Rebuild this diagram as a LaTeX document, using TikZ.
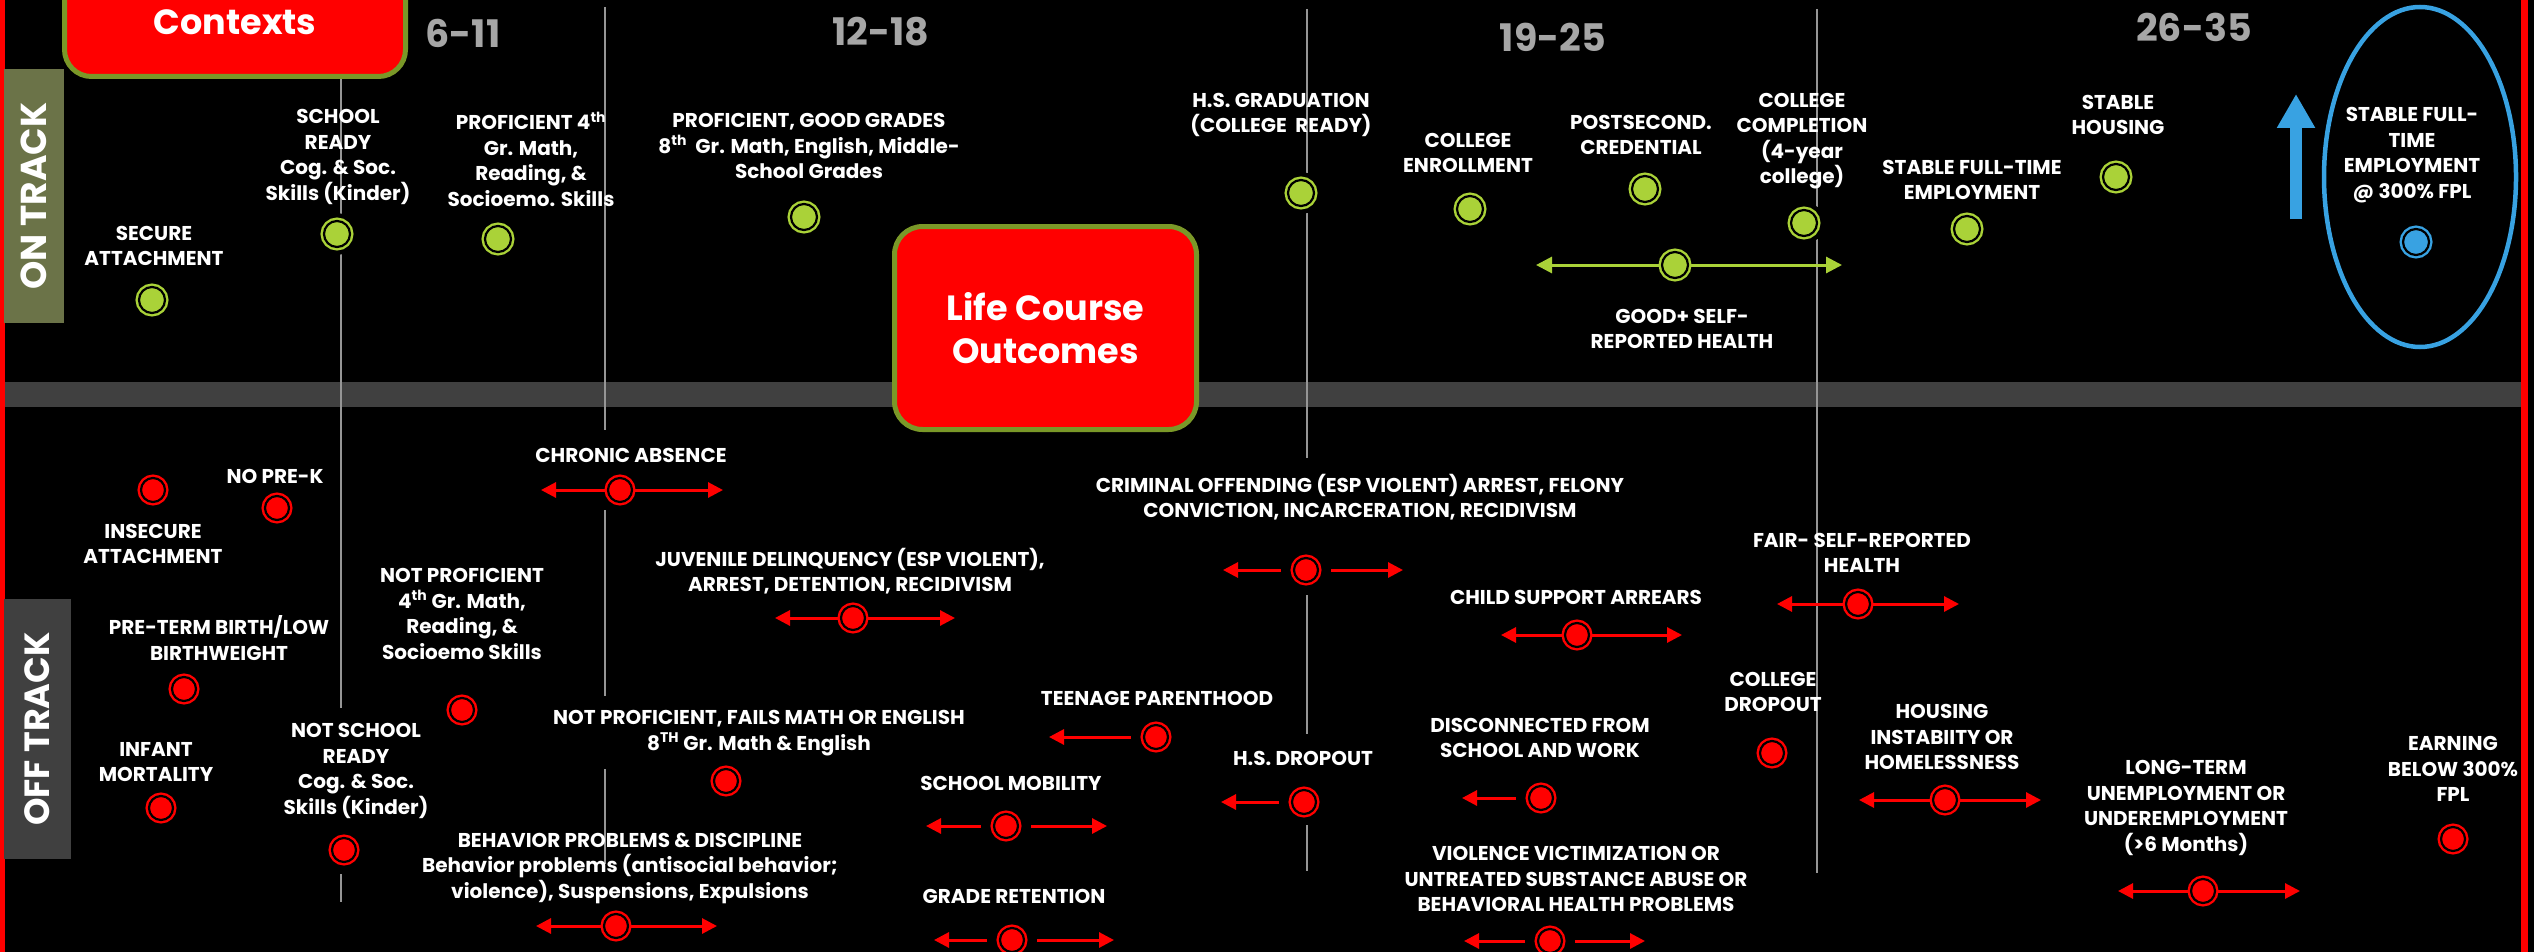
\documentclass[tikz,border=0pt]{standalone}
\usepackage{fontspec}
\setmainfont{Poppins}
\usetikzlibrary{arrows.meta,shapes.geometric}
\definecolor{lg}{RGB}{170,210,56}
\definecolor{rd}{RGB}{255,0,0}
\definecolor{bl}{RGB}{56,162,226}
\definecolor{olv}{RGB}{107,115,72}
\definecolor{bordergreen}{RGB}{122,152,40}
\definecolor{band}{RGB}{64,64,64}
\definecolor{vline}{RGB}{150,150,150}
\definecolor{agegrey}{RGB}{166,166,166}
\tikzset{
  lbl/.style={text=white, align=center, font=\bfseries\fontsize{20}{25.5}\selectfont, inner sep=0pt},
  dotbase/.style={circle, inner sep=0pt, line width=2.4pt, double distance=2.2pt, double=black, preaction={draw=black, line width=16pt}},
  gdot/.style={dotbase, minimum size=26pt, fill=lg, draw=lg},
  rdot/.style={dotbase, minimum size=24pt, fill=rd, draw=rd},
  bdot/.style={dotbase, minimum size=26pt, fill=bl, draw=bl},
  rarr/.style={draw=rd, line width=3pt, -{Triangle[length=15pt,width=15pt]}},
  garr/.style={draw=lg, line width=3pt, -{Triangle[length=16pt,width=16pt]}},
  age/.style={text=agegrey, font=\bfseries\fontsize{38}{40}\selectfont, inner sep=0pt},
  vl/.style={draw=vline, line width=2pt},
  sidebox/.style={rotate=90, text=white, inner sep=0pt, font=\bfseries\fontsize{36}{40}\selectfont},
  redbox/.style={fill=rd, draw=bordergreen, line width=5pt, text=white, align=center, inner sep=0pt},
}
\begin{document}
\begin{tikzpicture}[x=1pt,y=-1pt]
\useasboundingbox (0,0) rectangle (2534,952);
\fill[black] (0,0) rectangle (2534,952);
% band and borders
\fill[band] (4,382) rectangle (2521,407);
\fill[rd] (0,0) rectangle (4.5,952);
\fill[rd] (2521,0) rectangle (2528,952);
% vertical age dividers
\draw[vl] (341,79) -- (341,708);  \draw[vl] (341,874) -- (341,902);
\draw[vl] (605,7) -- (605,430);   \draw[vl] (605,510) -- (605,696); \draw[vl] (605,769) -- (605,864);
\draw[vl] (1307,9) -- (1307,458); \draw[vl] (1307,595) -- (1307,734); \draw[vl] (1307,825) -- (1307,871);
\draw[vl] (1817,9) -- (1817,873);
% side boxes
\node[sidebox, fill=olv, minimum width=254pt, minimum height=60pt] (ontrack) at (34,196) {ON TRACK};
\node[sidebox, fill=band, minimum width=260pt, minimum height=67pt, font=\bfseries\fontsize{35}{40}\selectfont] (offtrack) at (37.5,729) {OFF TRACK};
% titles
\node[redbox, rounded corners=27pt, minimum width=341pt, minimum height=109pt, font=\bfseries\fontsize{35}{40}\selectfont] (contexts) at (235,22) {Contexts};
\node[redbox, rounded corners=28pt, minimum width=302pt, minimum height=203pt, font=\bfseries\fontsize{35}{43}\selectfont] (lco) at (1045.5,328) {Life Course\\Outcomes};
% ages
\node[age] (a1) at (463,33) {6-11};
\node[age] (a2) at (881,32) {12-18};
\node[age] (a3) at (1553,37) {19-25};
\node[age] (a4) at (2194,27) {26-35};
% goal
\node[ellipse, draw=bl, line width=4.5pt, minimum width=192pt, minimum height=340pt, inner sep=0pt] (goal) at (2420,177) {};
\coordinate (ua-bot) at (2296,219);
\coordinate (ua-top) at (2296,94);
\draw[bl, line width=12pt, -{Triangle[length=34pt,width=36pt]}] (ua-bot) -- (ua-top);
% on-track dots
\node[gdot] (g1) at (152,300) {};
\node[gdot] (g2) at (337,234) {};
\node[gdot] (g3) at (498,239) {};
\node[gdot] (g4) at (804,217) {};
\node[gdot] (g5) at (1301,193) {};
\node[gdot] (g6) at (1470,209) {};
\node[gdot] (g7) at (1645,189) {};
\node[gdot] (g8) at (1804,223) {};
\node[gdot] (g9) at (1675,265) {};
\node[gdot] (g10) at (1967,229) {};
\node[gdot] (g11) at (2116,177) {};
\node[bdot] (b1) at (2416,242) {};
% off-track dots
\node[rdot] (r1) at (153,490) {};
\node[rdot] (r2) at (277,508) {};
\node[rdot] (r3) at (184,689) {};
\node[rdot] (r4) at (161,808) {};
\node[rdot] (r5) at (344,850) {};
\node[rdot] (r6) at (462,710) {};
\node[rdot] (r7) at (620,490) {};
\node[rdot] (r8) at (616,926) {};
\node[rdot] (r9) at (726,781) {};
\node[rdot] (r10) at (853,618) {};
\node[rdot] (r11) at (1156,737) {};
\node[rdot] (r12) at (1006,826) {};
\node[rdot] (r13) at (1012,940) {};
\node[rdot] (r14) at (1306,570) {};
\node[rdot] (r15) at (1304,802) {};
\node[rdot] (r16) at (1577,635) {};
\node[rdot] (r17) at (1541,798) {};
\node[rdot] (r18) at (1550,941) {};
\node[rdot] (r19) at (1772,753) {};
\node[rdot] (r20) at (1858,604) {};
\node[rdot] (r21) at (1945,800) {};
\node[rdot] (r22) at (2203,891) {};
\node[rdot] (r23) at (2453,839) {};
% arrow end points
\coordinate (g9l) at (1536,265);  \coordinate (g9r) at (1842,265);
\coordinate (r7l) at (541,490);   \coordinate (r7r) at (723,490);
\coordinate (r8l) at (536,926);   \coordinate (r8r) at (717,926);
\coordinate (r10l) at (775,618);  \coordinate (r10r) at (955,618);
\coordinate (r11l) at (1049,737);
\coordinate (r12l) at (926,826);  \coordinate (r12r) at (1107,826);
\coordinate (r13l) at (934,940);  \coordinate (r13r) at (1114,940);
\coordinate (r14l) at (1223,570); \coordinate (r14r) at (1403,570);
\coordinate (r15l) at (1221,802);
\coordinate (r16l) at (1501,635); \coordinate (r16r) at (1682,635);
\coordinate (r17l) at (1462,798);
\coordinate (r18l) at (1464,941); \coordinate (r18r) at (1645,941);
\coordinate (r20l) at (1777,604); \coordinate (r20r) at (1959,604);
\coordinate (r21l) at (1859,800); \coordinate (r21r) at (2041,800);
\coordinate (r22l) at (2118,891); \coordinate (r22r) at (2300,891);
% arrows
\draw[garr] ([xshift=-16pt]g9.center) -- (g9l);
\draw[garr] ([xshift=16pt]g9.center) -- (g9r);
\foreach \n in {r7,r8,r10,r16,r20,r21,r22}{
  \draw[rarr] ([xshift=-15pt]\n.center) -- (\n l);
  \draw[rarr] ([xshift=15pt]\n.center) -- (\n r);
}
\foreach \n in {r12,r13,r14,r18}{
  \draw[rarr] ([xshift=-25pt]\n.center) -- (\n l);
  \draw[rarr] ([xshift=25pt]\n.center) -- (\n r);
}
\foreach \n in {r11,r15,r17}{
  \draw[rarr] ([xshift=-25pt]\n.center) -- (\n l);
}
% on-track labels
\node[lbl] (tg1) at (154,246) {SECURE\\ATTACHMENT};
\node[lbl] (tg2) at (338,157) {SCHOOL\\READY\\Cog. \& Soc.\\Skills (Kinder)};
\node[lbl] (tg3) at (531,159) {PROFICIENT 4\textsuperscript{th}\\Gr. Math,\\Reading, \&\\Socioemo. Skills};
\node[lbl] (tg4) at (809,146) {PROFICIENT, GOOD GRADES\\8\textsuperscript{th}~ Gr. Math, English, Middle-\\School Grades};
\node[lbl] (tg5) at (1281,115) {H.S. GRADUATION\\(COLLEGE~ READY)};
\node[lbl] (tg6) at (1468,153) {COLLEGE\\ENROLLMENT};
\node[lbl] (tg7) at (1641,135) {POSTSECOND.\\CREDENTIAL};
\node[lbl] (tg8) at (1802,141) {COLLEGE\\COMPLETION\\(4-year\\college)};
\node[lbl] (tg9) at (1682,329) {GOOD+ SELF-\\REPORTED HEALTH};
\node[lbl] (tg10) at (1972,180) {STABLE FULL-TIME\\EMPLOYMENT};
\node[lbl] (tg11) at (2118,115) {STABLE\\HOUSING};
\node[lbl] (tb1) at (2412,155) {STABLE FULL-\\TIME\\EMPLOYMENT\\@ 300\% FPL};
% off-track labels
\node[lbl] (tr1) at (153,544) {INSECURE\\ATTACHMENT};
\node[lbl] (tr2) at (275,476) {NO PRE-K};
\node[lbl] (tr3) at (219,638) {PRE-TERM BIRTH/LOW\\BIRTHWEIGHT};
\node[lbl] (tr4) at (156,762) {INFANT\\MORTALITY};
\node[lbl] (tr5) at (356,771) {NOT SCHOOL\\READY\\Cog. \& Soc.\\Skills (Kinder)};
\node[lbl] (tr6) at (462,614) {NOT PROFICIENT\\4\textsuperscript{th} Gr. Math,\\Reading, \&\\Socioemo Skills};
\node[lbl] (tr7) at (631,455) {CHRONIC ABSENCE};
\node[lbl] (tr8) at (630,868) {BEHAVIOR PROBLEMS \& DISCIPLINE\\Behavior problems (antisocial behavior;\\violence), Suspensions, Expulsions};
\node[lbl] (tr9) at (759,733) {NOT PROFICIENT, FAILS MATH OR ENGLISH\\8\textsuperscript{TH} Gr. Math \& English};
\node[lbl] (tr10) at (850,571) {JUVENILE DELINQUENCY (ESP VIOLENT),\\ARREST, DETENTION, RECIDIVISM};
\node[lbl] (tr11) at (1157,698) {TEENAGE PARENTHOOD};
\node[lbl] (tr12) at (1011,783) {SCHOOL MOBILITY};
\node[lbl] (tr13) at (1014,896) {GRADE RETENTION};
\node[lbl] (tr14) at (1360,497) {CRIMINAL OFFENDING (ESP VIOLENT) ARREST, FELONY\\CONVICTION, INCARCERATION, RECIDIVISM};
\node[lbl] (tr15) at (1303,758) {H.S. DROPOUT};
\node[lbl] (tr16) at (1576,597) {CHILD SUPPORT ARREARS};
\node[lbl] (tr17) at (1540,738) {DISCONNECTED FROM\\SCHOOL AND WORK};
\node[lbl] (tr18) at (1576,879) {VIOLENCE VICTIMIZATION OR\\UNTREATED SUBSTANCE ABUSE OR\\BEHAVIORAL HEALTH PROBLEMS};
\node[lbl] (tr19) at (1773,692) {COLLEGE\\DROPOUT};
\node[lbl] (tr20) at (1862,553) {FAIR- SELF-REPORTED\\HEALTH};
\node[lbl] (tr21) at (1942,737) {HOUSING\\INSTABIITY OR\\HOMELESSNESS};
\node[lbl] (tr22) at (2186,808) {LONG-TERM\\UNEMPLOYMENT OR\\UNDEREMPLOYMENT\\(>6 Months)};
\node[lbl] (tr23) at (2453,769) {EARNING\\BELOW 300\%\\FPL};
\end{tikzpicture}
\end{document}
